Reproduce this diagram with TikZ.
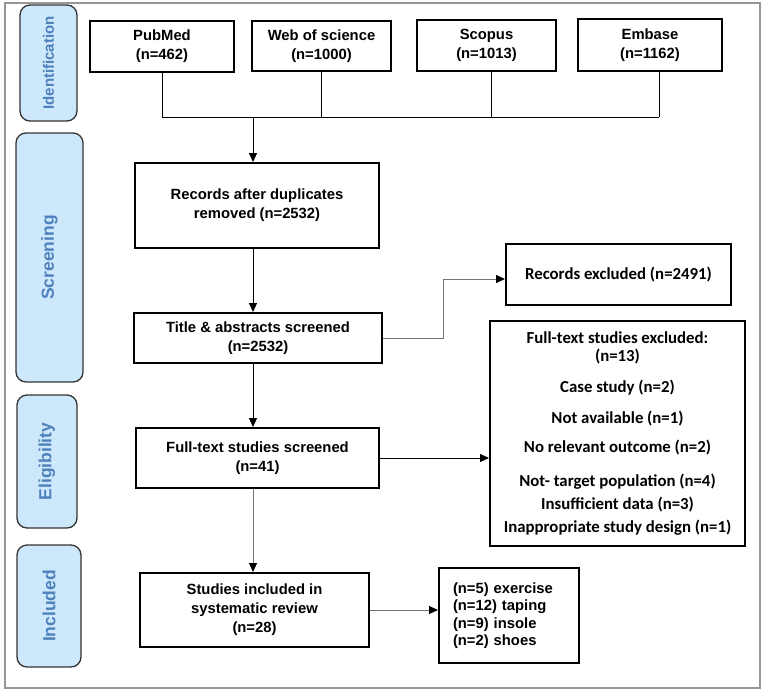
\documentclass[tikz,border=0pt]{standalone}
\usepackage{fontspec}
\setmainfont{Liberation Sans}
\newfontfamily\carlito{Carlito}
\usetikzlibrary{arrows.meta}
\definecolor{stageblue}{RGB}{79, 129, 189}
\definecolor{stagefill}{RGB}{204, 232, 250}
\definecolor{framegray}{RGB}{150, 150, 150}

\begin{document}
\begin{tikzpicture}[
        x=1pt, y=-1pt,
        block/.style={rectangle, draw=black, line width=2pt, fill=white, align=center, inner sep=2pt, font=\fontsize{14.8}{19}\selectfont\bfseries},
        exclbox/.style={block, font=\fontsize{16.8}{23}\selectfont\carlito\bfseries},
        stage/.style={rectangle, rounded corners=10pt, draw=black!80, line width=1.3pt, fill=stagefill, text=stageblue, rotate=90, font=\fontsize{17.5}{20}\selectfont\bfseries},
        line/.style={line width=1pt},
        arrow/.style={line, -{Triangle[length=9pt, width=8pt, color=black]}},
        grayline/.style={line, draw=black!55}
    ]
        \useasboundingbox (0,0) rectangle (767,693);
        \draw[framegray, line width=1.2pt] (5,3) rectangle (760,688);

        % Stages
        \node[stage, minimum width=116, minimum height=57, font=\fontsize{15}{18}\selectfont\bfseries] (stageid) at (48.5,63) {Identification};
        \node[stage, minimum width=249, minimum height=67] (stagescr) at (49.5,257.5) {Screening};
        \node[stage, minimum width=133, minimum height=60] (stageelig) at (47,461.5) {Eligibility};
        \node[stage, minimum width=122, minimum height=64] (stageinc) at (49,606) {Included};

        % Databases
        \node[block, minimum width=144, minimum height=51] (pubmed) at (162,46.5) {PubMed\\(n=462)};
        \node[block, minimum width=139, minimum height=50] (wos) at (321.5,46) {Web of science\\(n=1000)};
        \node[block, minimum width=139, minimum height=51] (scopus) at (486.5,45.5) {Scopus\\(n=1013)};
        \node[block, minimum width=144, minimum height=52] (embase) at (650,45) {Embase\\(n=1162)};

        % Screening and eligibility
        \node[block, minimum width=244, minimum height=85] (records) at (257,205.5) {Records after duplicates\\removed (n=2532)};
        \node[block, minimum width=248, minimum height=50] (title) at (258,338) {Title \& abstracts screened\\(n=2532)};
        \node[block, minimum width=243, minimum height=60] (fulltext) at (257.5,458) {Full-text studies screened\\(n=41)};
        \node[block, minimum width=229, minimum height=74] (included) at (254.5,610) {Studies included in\\systematic review\\(n=28)};

        % Exclusions
        \node[exclbox, minimum width=225, minimum height=61] (excl1) at (618.5,274.5) {Records excluded (n=2491)};
        \node[exclbox, minimum width=255, minimum height=225] (excl2) at (617.5,433.5) {Full-text studies excluded:\\[-5pt](n=13)\\[8pt]Case study (n=2)\\[8pt]Not available (n=1)\\[6pt]No relevant outcome (n=2)\\[11pt]Not- target population (n=4)\\Insufficient data (n=3)\\Inappropriate study design (n=1)};

        % Interventions
        \node[block, align=left, text width=112pt, inner xsep=14pt, minimum height=95, font=\fontsize{14.8}{17.5}\selectfont\bfseries] (results) at (509,615.5) {(n=5) exercise\\(n=12) taping\\(n=9) insole\\(n=2) shoes};

        % Merge of databases
        \coordinate (bus) at (253,117);
        \coordinate (scopusdrop) at ([xshift=4.5pt]scopus.south);
        \coordinate (embasedrop) at ([xshift=9pt]embase.south);
        \draw[line] (pubmed.south) -- (pubmed.south |- bus);
        \draw[line] (wos.south) -- (wos.south |- bus);
        \draw[line] (scopusdrop) -- (scopusdrop |- bus);
        \draw[line] (embasedrop) -- (embasedrop |- bus);
        \draw[line] (pubmed.south |- bus) -- (embasedrop |- bus);

        % Arrows
        \draw[arrow] (bus) -- (bus |- records.north);
        \draw[arrow] (records.south -| bus) -- (title.north -| bus);
        \draw[arrow] (title.south -| bus) -- (fulltext.north -| bus);
        \draw[arrow, grayline] (fulltext.south -| bus) -- (included.north -| bus);
        \coordinate (turn) at (443,279);
        \draw[arrow, grayline] (title.east) -| (turn) -- (turn -| excl1.west);
        \draw[arrow] (fulltext.east) -- (fulltext.east -| excl2.west);
        \draw[arrow, grayline] (included.east) -- (included.east -| results.west);
    \end{tikzpicture}
\end{document}
